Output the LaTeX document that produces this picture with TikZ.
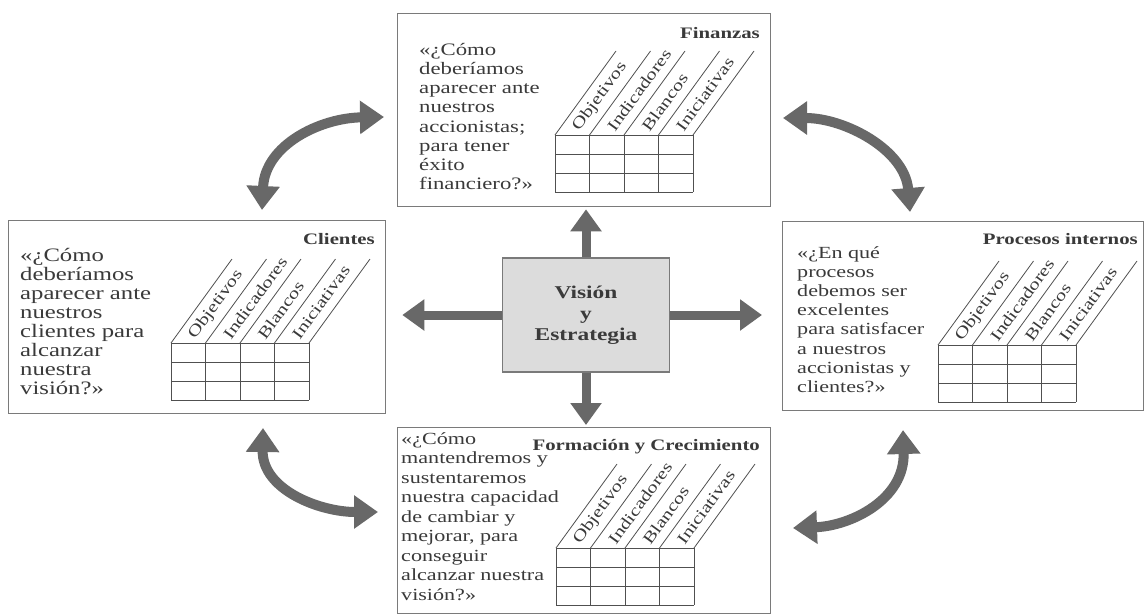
\documentclass[tikz,border=0pt]{standalone}
\usepackage{fontspec}
\setmainfont{Liberation Serif}[FakeStretch=1.3]
\usetikzlibrary{arrows.meta}
\definecolor{ink}{HTML}{3A3A3A}
\definecolor{frame}{HTML}{7A7A7A}
\definecolor{arrowgray}{HTML}{686868}
\definecolor{corefill}{HTML}{DCDCDC}
\definecolor{gridgray}{HTML}{505050}

\tikzset{
  panel/.style={draw=frame, line width=1.3pt, fill=white, anchor=north west, inner sep=0pt},
  paneltitle/.style={font=\fontsize{16}{18}\selectfont\bfseries, text=ink, anchor=base east, inner sep=0pt},
  question/.style={anchor=north west, align=left, inner sep=0pt, text=ink},
  axislabel/.style={font=\fontsize{16}{16}\selectfont, text=ink, rotate=54, anchor=west, inner sep=0pt},
  gridline/.style={draw=gridgray, line width=0.8pt},
  bigarrow/.style={draw=arrowgray, line width=9pt, -{Triangle[length=22pt,width=30pt]}},
  swing/.style={draw=arrowgray, line width=10pt, {Triangle[length=24pt,width=32pt]}-{Triangle[length=24pt,width=32pt]}},
  % table of four slanted column headings over a 4x3 grid
  card/.pic={
    \foreach \i in {0,...,4} {
      \draw[gridline] (\i*34.5,0) -- (\i*34.5,57);
      \draw[gridline] (\i*34.5,0) -- ++(61,-84);
    }
    \foreach \j in {0,...,3}
      \draw[gridline] (0,\j*19) -- (138,\j*19);
    \foreach \lab [count=\k from 0] in {Objetivos,Indicadores,Blancos,Iniciativas}
      \node[axislabel] (-lab\k) at (21+34.5*\k,-5.5) {\lab};
  }
}

\begin{document}
\begin{tikzpicture}[x=1pt,y=-1pt]
\useasboundingbox (0,0) rectangle (1145,614);
\fill[white] (0,0) rectangle (1145,614);

% four perspective panels
\node[panel, minimum width=373pt, minimum height=193pt] (fin) at (397,13) {};
\node[panel, minimum width=377pt, minimum height=193pt] (cli) at (8,220) {};
\node[panel, minimum width=361pt, minimum height=189pt] (proc) at (782,221) {};
\node[panel, minimum width=373pt, minimum height=186pt] (grow) at (397,427) {};

% panel headings
\node[paneltitle] (finT) at (760,38) {Finanzas};
\node[paneltitle] (cliT) at (375,244) {Clientes};
\node[paneltitle] (procT) at (1138,244) {Procesos internos};
\node[paneltitle] (growT) at (760,450) {Formación y Crecimiento};

% guiding questions
\node[question, font=\fontsize{17.5}{19.2}\selectfont] (finQ) at (419,43)
  {«¿Cómo\\deberíamos\\aparecer ante\\nuestros\\accionistas;\\para tener\\éxito\\financiero?»};
\node[question, font=\fontsize{19}{19}\selectfont] (cliQ) at (20,248)
  {«¿Cómo\\deberíamos\\aparecer ante\\nuestros\\clientes para\\alcanzar\\nuestra\\visión?»};
\node[question, font=\fontsize{17}{19.2}\selectfont] (procQ) at (797,246)
  {«¿En qué\\procesos\\debemos ser\\excelentes\\para satisfacer\\a nuestros\\accionistas y\\clientes?»};
\node[question, font=\fontsize{17}{19.5}\selectfont] (growQ) at (401,432)
  {«¿Cómo\\mantendremos y\\sustentaremos\\nuestra capacidad\\de cambiar y\\mejorar, para\\conseguir\\alcanzar nuestra\\visión?»};

% scorecard tables
\pic (finG) at (555,135) {card};
\pic (cliG) at (171,343) {card};
\pic (procG) at (938,345) {card};
\pic (growG) at (556,548) {card};

% central box
\node[draw=frame, line width=1.3pt, fill=corefill, minimum width=167pt, minimum height=114pt,
      align=center, text=ink, font=\fontsize{18}{21}\selectfont\bfseries] (core) at (586,315)
  {Visión\\y\\Estrategia};

% straight arrows from the centre
\draw[bigarrow, shorten >=2pt] (core.north) -- (core.north |- fin.south);
\draw[bigarrow, shorten >=2pt] (core.south) -- (core.south |- grow.north);
\draw[bigarrow, shorten >=16pt] (core.west) -- (core.west -| cli.east);
\draw[bigarrow, shorten >=20pt] (core.east) -- (core.east -| proc.west);

% curved double arrows between neighbouring panels
\coordinate (tlA) at (262,210); \coordinate (tlB) at (384,117);
\coordinate (trA) at (783,118); \coordinate (trB) at (910,212);
\coordinate (blA) at (263,428); \coordinate (blB) at (378,512);
\coordinate (brA) at (903,430); \coordinate (brB) at (793,528);
\draw[swing] (tlA) .. controls (265,145) and (320,118) .. (tlB);
\draw[swing] (trA) .. controls (845,118) and (905,150) .. (trB);
\draw[swing] (blA) .. controls (262,490) and (320,512) .. (blB);
\draw[swing] (brA) .. controls (905,500) and (850,526) .. (brB);
\end{tikzpicture}
\end{document}
